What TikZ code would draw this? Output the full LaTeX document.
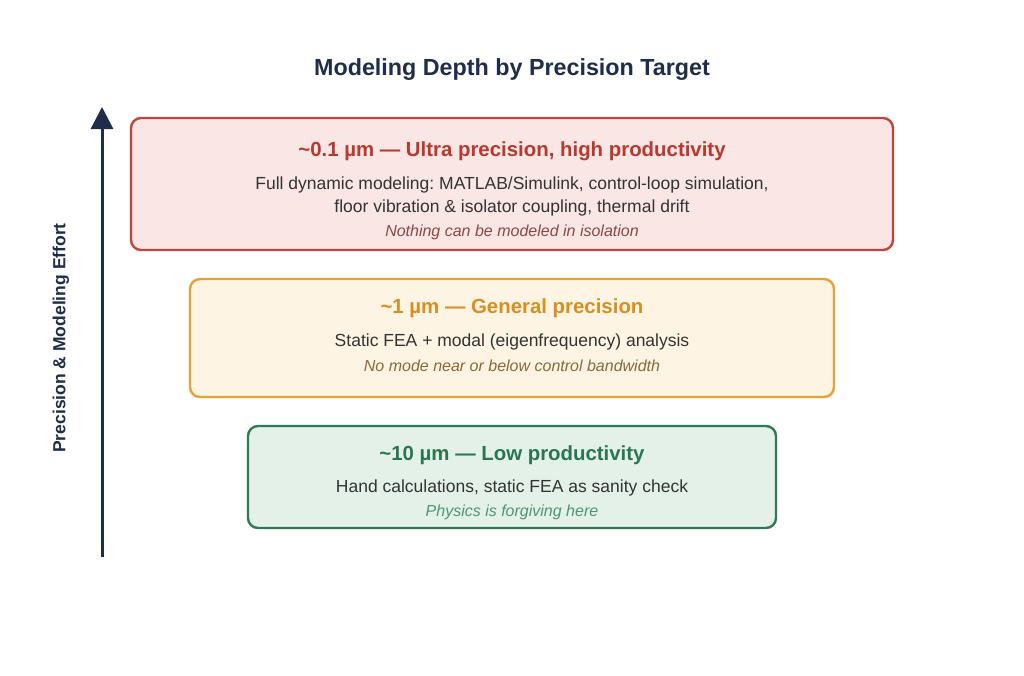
\documentclass[tikz,border=0pt]{standalone}
\usepackage{fontspec}
\setmainfont{Liberation Sans}
\usetikzlibrary{arrows.meta}
\frenchspacing

\definecolor{navy}{HTML}{1F2D4A}
\definecolor{ultraline}{HTML}{C0453C}
\definecolor{ultrafill}{HTML}{F9E6E5}
\definecolor{ultratext}{HTML}{B8392F}
\definecolor{ultranote}{HTML}{8A4A45}
\definecolor{genline}{HTML}{E2A436}
\definecolor{genfill}{HTML}{FDF4E4}
\definecolor{gentext}{HTML}{D98F1F}
\definecolor{gennote}{HTML}{8A6A35}
\definecolor{lowline}{HTML}{2F7A55}
\definecolor{lowfill}{HTML}{E4F1E9}
\definecolor{lowtext}{HTML}{2A7650}
\definecolor{lownote}{HTML}{4E9670}
\definecolor{bodytext}{HTML}{333333}

\begin{document}
\begin{tikzpicture}[x=1pt, y=-1pt,
		tier/.style={draw, line width=2.4pt, rounded corners=10pt, inner sep=0pt},
		head/.style={font=\bfseries\fontsize{20.4}{24}\selectfont, inner sep=0pt},
		body/.style={font=\fontsize{17.5}{23}\selectfont, text=bodytext, align=center, inner sep=0pt},
		note/.style={font=\itshape\fontsize{16}{18}\selectfont, inner sep=0pt}]
					\useasboundingbox[fill=white] (0,0) rectangle (1024,675);

					% Title
					\node[font=\bfseries\fontsize{23.3}{28}\selectfont, text=navy, inner sep=0pt] (title) at (512,70) {Modeling Depth by Precision Target};

					% Axis
					\coordinate (axbot) at (102,557);
					\coordinate (axtop) at (102,107);
					\draw[navy, line width=3pt, -{Triangle[length=22pt, width=22pt]}] (axbot) -- (axtop);
					\node[font=\bfseries\fontsize{17.5}{20}\selectfont, text=navy, rotate=90, inner sep=0pt] (axlabel) at (61,338) {Precision \& Modeling Effort};

					% Ultra precision
					\node[tier, draw=ultraline, fill=ultrafill, minimum width=762pt, minimum height=132pt] (ultra) at (512,184) {};
					\node[head, text=ultratext] (ultrahead) at (512,151) {\textasciitilde0.1 µm — Ultra precision, high productivity};
					\node[body] (ultrabody) at (512,196) {Full dynamic modeling: MATLAB/Simulink, control-loop simulation,\\floor vibration \& isolator coupling, thermal drift};
					\node[note, text=ultranote] (ultranote) at (512,232) {Nothing can be modeled in isolation};

					% General precision
					\node[tier, draw=genline, fill=genfill, minimum width=644pt, minimum height=118pt] (general) at (512,338) {};
					\node[head, text=gentext] (genhead) at (512,308) {\textasciitilde1 µm — General precision};
					\node[body] (genbody) at (512,342) {Static FEA + modal (eigenfrequency) analysis};
					\node[note, text=gennote] (gennote) at (512,366) {No mode near or below control bandwidth};

					% Low productivity
					\node[tier, draw=lowline, fill=lowfill, minimum width=528pt, minimum height=102pt] (low) at (512,477) {};
					\node[head, text=lowtext] (lowhead) at (512,455) {\textasciitilde10 µm — Low productivity};
					\node[body] (lowbody) at (512,488) {Hand calculations, static FEA as sanity check};
					\node[note, text=lownote] (lownote) at (512,512) {Physics is forgiving here};
				\end{tikzpicture}
\end{document}
